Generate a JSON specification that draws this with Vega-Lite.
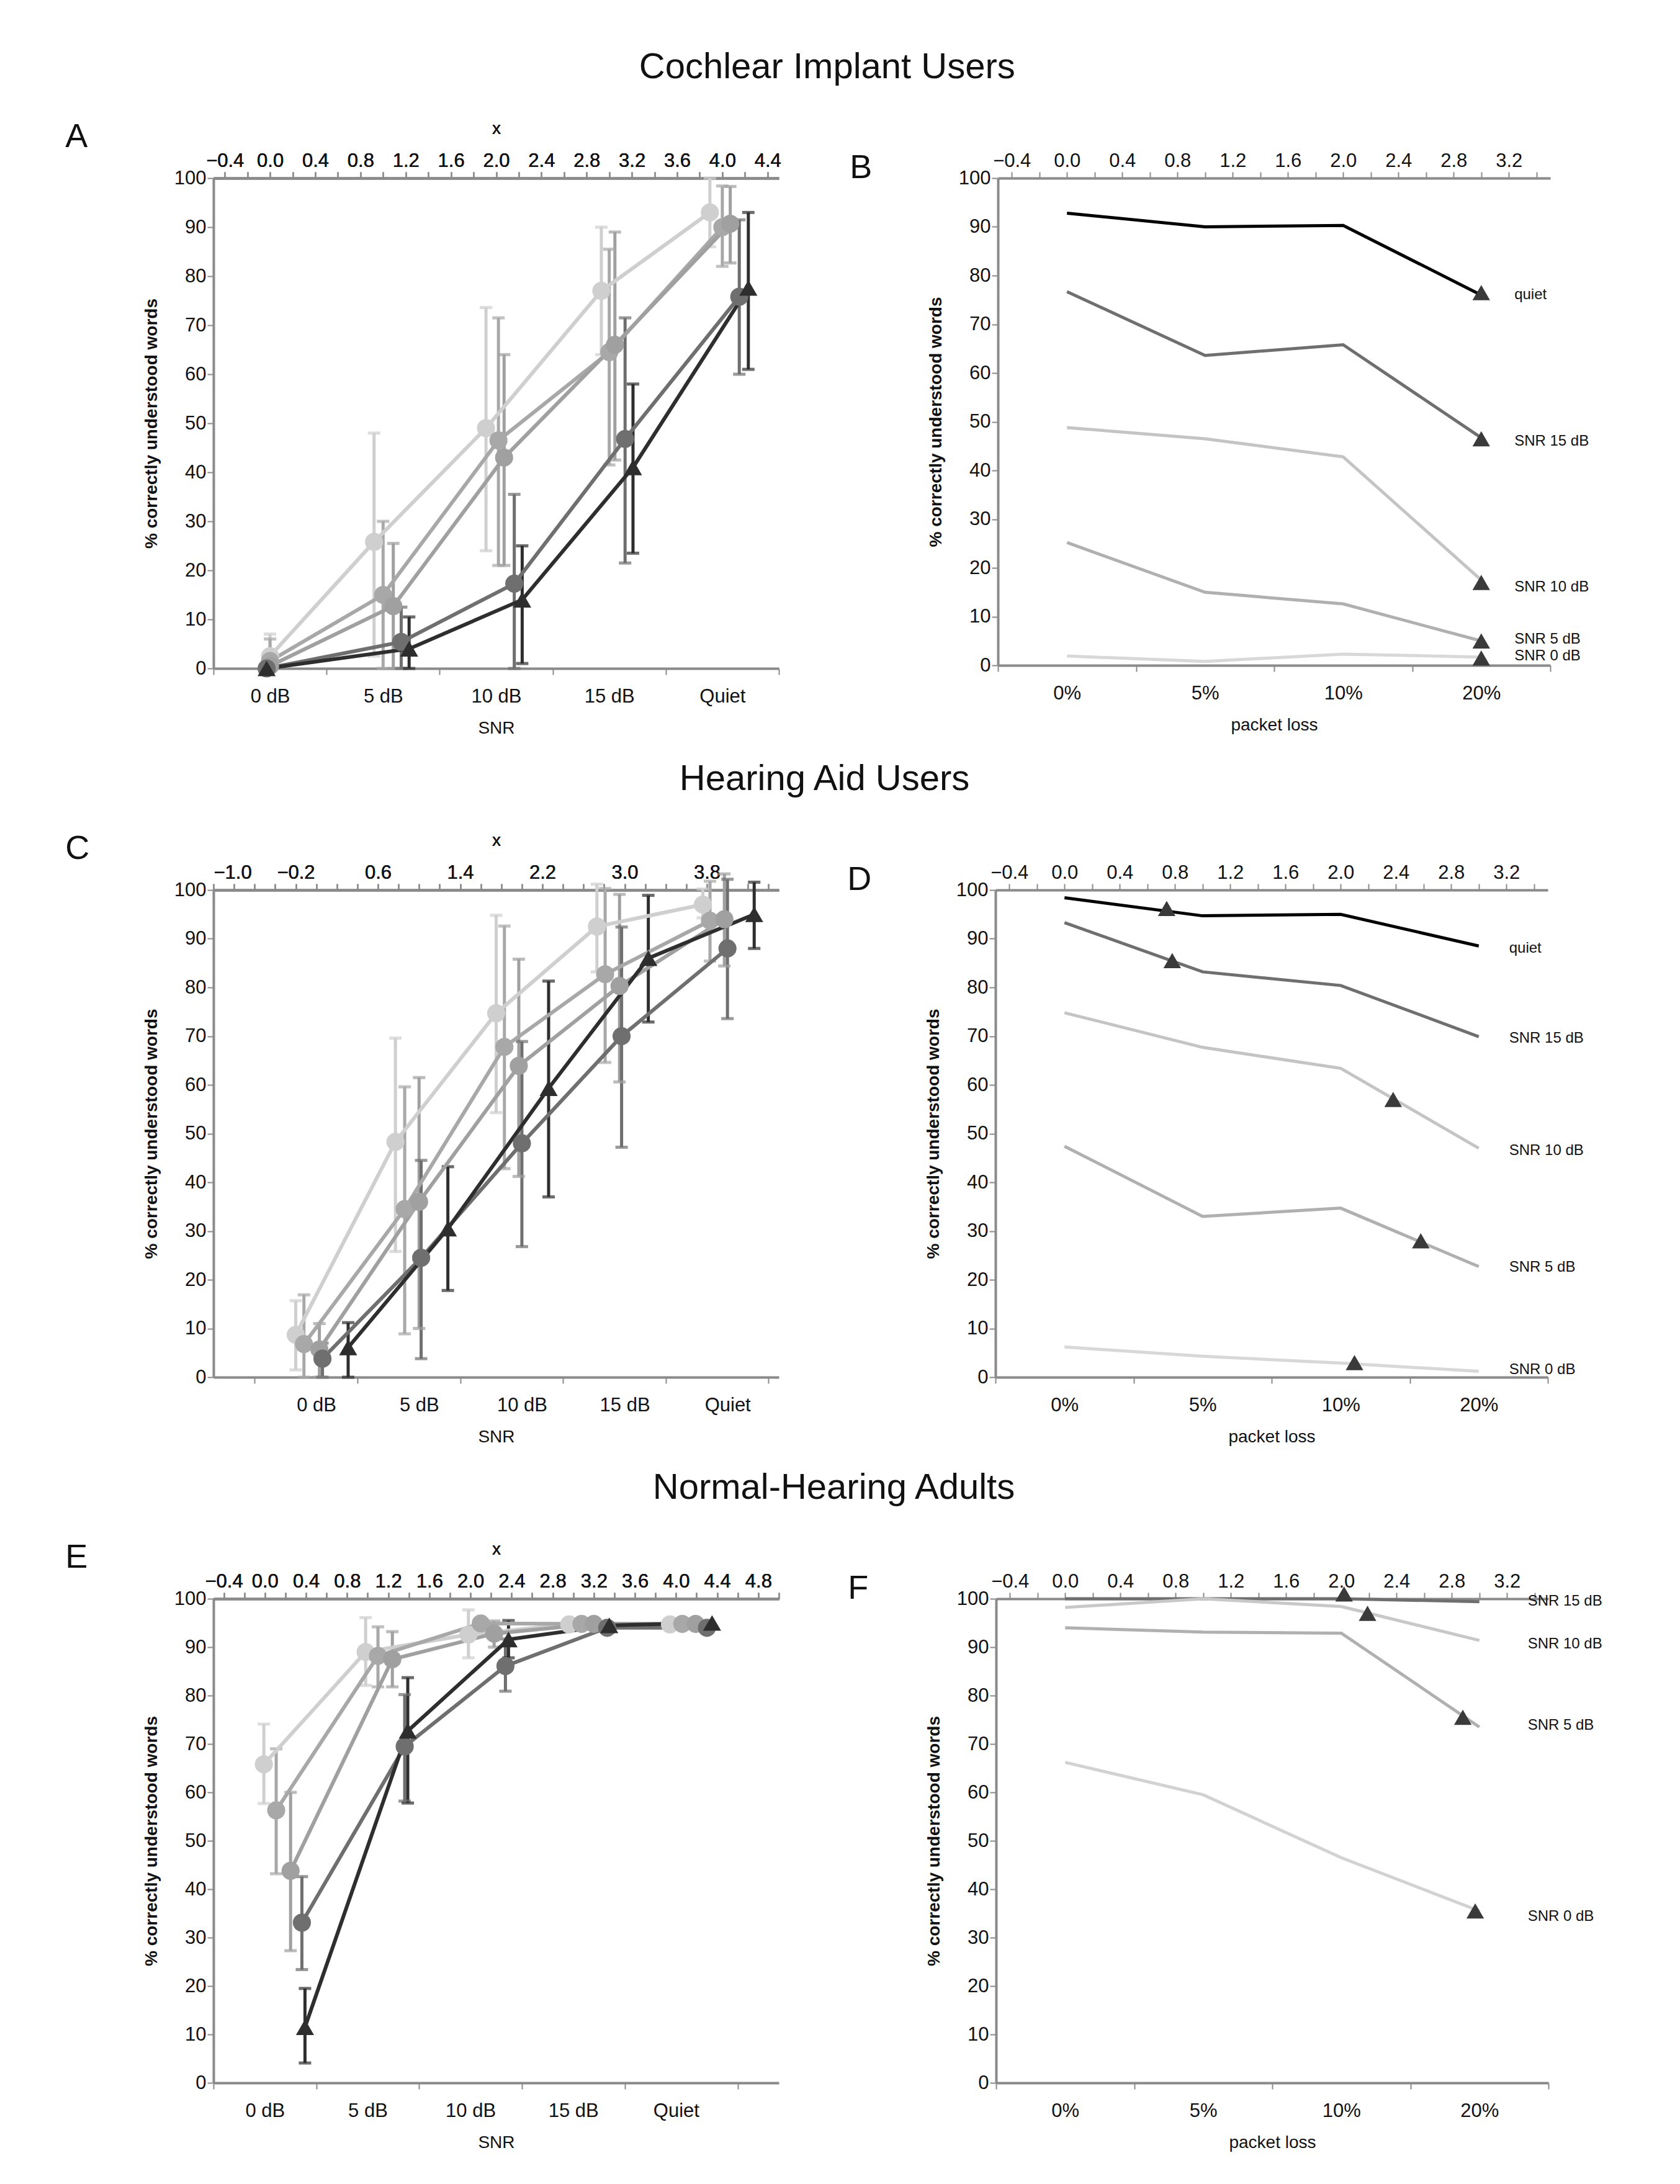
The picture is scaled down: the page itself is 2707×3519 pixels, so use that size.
{
  "$schema": "https://vega.github.io/schema/vega-lite/v6.json",
  "background": "white",
  "padding": {"left": 105, "top": 80, "right": 20, "bottom": 20},
  "config": {
    "font": "Liberation Sans",
    "view": {"stroke": null},
    "axis": {"grid": false, "domainColor": "#8a8a8a", "domainWidth": 4, "tickColor": "#8a8a8a", "tickWidth": 2, "tickSize": 10, "labelFontSize": 31, "labelColor": "#111", "titleFontSize": 28, "titleColor": "#111", "labelFont": "Liberation Sans", "titleFont": "Liberation Sans"},
    "axisY": {"titleFontWeight": "bold", "titlePadding": 22},
    "axisX": {"titleFontWeight": "normal", "titlePadding": 22},
    "title": {"font": "Liberation Sans", "fontWeight": "normal", "color": "#111"},
    "concat": {"spacing": 40}
  },
  "resolve": {"scale": {"color": "independent", "shape": "independent"}, "legend": {"color": "independent", "shape": "independent"}},
  "datasets": {
    "A": [
      {"s": "0% packet loss", "x": 0.0, "y": 2.5, "lo": 0, "hi": 7},
      {"s": "0% packet loss", "x": 0.92, "y": 25.8, "lo": 2.5, "hi": 48},
      {"s": "0% packet loss", "x": 1.91, "y": 49, "lo": 24, "hi": 73.6},
      {"s": "0% packet loss", "x": 2.93, "y": 77, "lo": 64, "hi": 90},
      {"s": "0% packet loss", "x": 3.89, "y": 93, "lo": 86, "hi": 100},
      {"s": "5% packet loss", "x": 0.0, "y": 1.5, "lo": 0, "hi": 6},
      {"s": "5% packet loss", "x": 1.0, "y": 15, "lo": 0, "hi": 30},
      {"s": "5% packet loss", "x": 2.02, "y": 46.5, "lo": 21, "hi": 71.5},
      {"s": "5% packet loss", "x": 3.0, "y": 64.5, "lo": 41.5, "hi": 85.5},
      {"s": "5% packet loss", "x": 4.0, "y": 90, "lo": 82, "hi": 98.4},
      {"s": "10% packet loss", "x": 0.0, "y": 0.5, "lo": null, "hi": null},
      {"s": "10% packet loss", "x": 1.09, "y": 12.7, "lo": 0, "hi": 25.5},
      {"s": "10% packet loss", "x": 2.07, "y": 43, "lo": 21, "hi": 64},
      {"s": "10% packet loss", "x": 3.05, "y": 66, "lo": 42.5, "hi": 89},
      {"s": "10% packet loss", "x": 4.07, "y": 90.7, "lo": 82.7, "hi": 98.3},
      {"s": "20% packet loss", "x": -0.03, "y": 0, "lo": null, "hi": null},
      {"s": "20% packet loss", "x": 1.16, "y": 5.4, "lo": 0, "hi": 12.5},
      {"s": "20% packet loss", "x": 2.16, "y": 17.3, "lo": 0, "hi": 35.5},
      {"s": "20% packet loss", "x": 3.14, "y": 46.8, "lo": 21.5, "hi": 71.5},
      {"s": "20% packet loss", "x": 4.15, "y": 75.8, "lo": 60, "hi": 91.5},
      {"s": "Telephone", "x": -0.03, "y": 0, "lo": null, "hi": null},
      {"s": "Telephone", "x": 1.23, "y": 4, "lo": 0, "hi": 10.5},
      {"s": "Telephone", "x": 2.23, "y": 14, "lo": 1, "hi": 25},
      {"s": "Telephone", "x": 3.21, "y": 41, "lo": 23.5, "hi": 58},
      {"s": "Telephone", "x": 4.23, "y": 77.6, "lo": 61, "hi": 93}
    ],
    "C": [
      {"s": "0% packet loss", "x": -0.2, "y": 8.7, "lo": 1.5, "hi": 15.7},
      {"s": "0% packet loss", "x": 0.77, "y": 48.3, "lo": 25.8, "hi": 69.6},
      {"s": "0% packet loss", "x": 1.75, "y": 74.7, "lo": 54.3, "hi": 94.8},
      {"s": "0% packet loss", "x": 2.73, "y": 92.5, "lo": 83.2, "hi": 101.2},
      {"s": "0% packet loss", "x": 3.76, "y": 97, "lo": 94.3, "hi": 100.2},
      {"s": "5% packet loss", "x": -0.12, "y": 6.8, "lo": 0, "hi": 16.9},
      {"s": "5% packet loss", "x": 0.86, "y": 34.5, "lo": 8.9, "hi": 59.6},
      {"s": "5% packet loss", "x": 1.83, "y": 67.8, "lo": 42.8, "hi": 92.6},
      {"s": "5% packet loss", "x": 2.81, "y": 82.7, "lo": 64.6, "hi": 100.3},
      {"s": "5% packet loss", "x": 3.83, "y": 93.7, "lo": 85.4, "hi": 101.8},
      {"s": "10% packet loss", "x": 0.03, "y": 5.7, "lo": 0, "hi": 11},
      {"s": "10% packet loss", "x": 1.0, "y": 36, "lo": 10, "hi": 61.5},
      {"s": "10% packet loss", "x": 1.97, "y": 63.9, "lo": 41.2, "hi": 85.8},
      {"s": "10% packet loss", "x": 2.95, "y": 80.3, "lo": 60.6, "hi": 99.1},
      {"s": "10% packet loss", "x": 3.97, "y": 94, "lo": 84.4, "hi": 103.3},
      {"s": "20% packet loss", "x": 0.06, "y": 3.8, "lo": 0, "hi": 7},
      {"s": "20% packet loss", "x": 1.02, "y": 24.5, "lo": 3.8, "hi": 44.5},
      {"s": "20% packet loss", "x": 2.0, "y": 48, "lo": 26.8, "hi": 68.9},
      {"s": "20% packet loss", "x": 2.97, "y": 70, "lo": 47.2, "hi": 92.4},
      {"s": "20% packet loss", "x": 4.0, "y": 88, "lo": 73.6, "hi": 102.2},
      {"s": "Telephone", "x": 0.31, "y": 6.1, "lo": 0, "hi": 11.2},
      {"s": "Telephone", "x": 1.28, "y": 30.5, "lo": 17.8, "hi": 43.2},
      {"s": "Telephone", "x": 2.26, "y": 59.3, "lo": 37, "hi": 81.3},
      {"s": "Telephone", "x": 3.23, "y": 86, "lo": 72.9, "hi": 98.9},
      {"s": "Telephone", "x": 4.26, "y": 95, "lo": 88, "hi": 101.6}
    ],
    "E": [
      {"s": "0% packet loss", "x": -0.01, "y": 65.8, "lo": 57.7, "hi": 74.1},
      {"s": "0% packet loss", "x": 0.98, "y": 89, "lo": 82.1, "hi": 96.1},
      {"s": "0% packet loss", "x": 1.98, "y": 92.6, "lo": 87.8, "hi": 97.7},
      {"s": "0% packet loss", "x": 2.96, "y": 94.7, "lo": null, "hi": null},
      {"s": "0% packet loss", "x": 3.94, "y": 94.7, "lo": null, "hi": null},
      {"s": "5% packet loss", "x": 0.11, "y": 56.3, "lo": 43.2, "hi": 69},
      {"s": "5% packet loss", "x": 1.1, "y": 88.2, "lo": 81.8, "hi": 94.2},
      {"s": "5% packet loss", "x": 2.1, "y": 94.9, "lo": null, "hi": null},
      {"s": "5% packet loss", "x": 3.08, "y": 94.8, "lo": null, "hi": null},
      {"s": "5% packet loss", "x": 4.06, "y": 94.8, "lo": null, "hi": null},
      {"s": "10% packet loss", "x": 0.25, "y": 43.8, "lo": 27.3, "hi": 60},
      {"s": "10% packet loss", "x": 1.24, "y": 87.5, "lo": 81.8, "hi": 93.2},
      {"s": "10% packet loss", "x": 2.23, "y": 92.8, "lo": 90, "hi": 95.4},
      {"s": "10% packet loss", "x": 3.2, "y": 94.8, "lo": null, "hi": null},
      {"s": "10% packet loss", "x": 4.19, "y": 94.8, "lo": null, "hi": null},
      {"s": "20% packet loss", "x": 0.36, "y": 33.1, "lo": 23.4, "hi": 42.6},
      {"s": "20% packet loss", "x": 1.36, "y": 69.5, "lo": 58.2, "hi": 80.2},
      {"s": "20% packet loss", "x": 2.34, "y": 86.1, "lo": 80.9, "hi": 91.7},
      {"s": "20% packet loss", "x": 3.33, "y": 94, "lo": null, "hi": null},
      {"s": "20% packet loss", "x": 4.3, "y": 94, "lo": null, "hi": null},
      {"s": "Telephone", "x": 0.39, "y": 11.5, "lo": 4.1, "hi": 19.5},
      {"s": "Telephone", "x": 1.39, "y": 72.7, "lo": 57.8, "hi": 83.7},
      {"s": "Telephone", "x": 2.37, "y": 91.6, "lo": 87.8, "hi": 95.5},
      {"s": "Telephone", "x": 3.35, "y": 94.5, "lo": null, "hi": null},
      {"s": "Telephone", "x": 4.35, "y": 95, "lo": null, "hi": null}
    ],
    "B": [
      {"s": "quiet", "x": 0, "y": 92.8}, {"s": "quiet", "x": 1, "y": 90}, {"s": "quiet", "x": 2, "y": 90.3}, {"s": "quiet", "x": 3, "y": 76},
      {"s": "SNR 15 dB", "x": 0, "y": 76.7}, {"s": "SNR 15 dB", "x": 1, "y": 63.6}, {"s": "SNR 15 dB", "x": 2, "y": 65.8}, {"s": "SNR 15 dB", "x": 3, "y": 46.7},
      {"s": "SNR 10 dB", "x": 0, "y": 48.8}, {"s": "SNR 10 dB", "x": 1, "y": 46.5}, {"s": "SNR 10 dB", "x": 2, "y": 42.8}, {"s": "SNR 10 dB", "x": 3, "y": 17.5},
      {"s": "SNR 5 dB", "x": 0, "y": 25.2}, {"s": "SNR 5 dB", "x": 1, "y": 15}, {"s": "SNR 5 dB", "x": 2, "y": 12.6}, {"s": "SNR 5 dB", "x": 3, "y": 5},
      {"s": "SNR 0 dB", "x": 0, "y": 1.9}, {"s": "SNR 0 dB", "x": 1, "y": 0.8}, {"s": "SNR 0 dB", "x": 2, "y": 2.3}, {"s": "SNR 0 dB", "x": 3, "y": 1.7}
    ],
    "Btel": [
      {"s": "quiet", "x": 3, "y": 76.5, "ly": 76},
      {"s": "SNR 15 dB", "x": 3, "y": 46.5, "ly": 46},
      {"s": "SNR 10 dB", "x": 3, "y": 17, "ly": 16},
      {"s": "SNR 5 dB", "x": 3, "y": 5, "ly": 5.4},
      {"s": "SNR 0 dB", "x": 3, "y": 1.5, "ly": 1.9}
    ],
    "D": [
      {"s": "quiet", "x": 0, "y": 98.4}, {"s": "quiet", "x": 1, "y": 94.7}, {"s": "quiet", "x": 2, "y": 95}, {"s": "quiet", "x": 3, "y": 88.5},
      {"s": "SNR 15 dB", "x": 0, "y": 93.3}, {"s": "SNR 15 dB", "x": 1, "y": 83.2}, {"s": "SNR 15 dB", "x": 2, "y": 80.4}, {"s": "SNR 15 dB", "x": 3, "y": 69.9},
      {"s": "SNR 10 dB", "x": 0, "y": 74.8}, {"s": "SNR 10 dB", "x": 1, "y": 67.7}, {"s": "SNR 10 dB", "x": 2, "y": 63.4}, {"s": "SNR 10 dB", "x": 3, "y": 47},
      {"s": "SNR 5 dB", "x": 0, "y": 47.4}, {"s": "SNR 5 dB", "x": 1, "y": 33}, {"s": "SNR 5 dB", "x": 2, "y": 34.7}, {"s": "SNR 5 dB", "x": 3, "y": 22.7},
      {"s": "SNR 0 dB", "x": 0, "y": 6.2}, {"s": "SNR 0 dB", "x": 1, "y": 4.3}, {"s": "SNR 0 dB", "x": 2, "y": 2.9}, {"s": "SNR 0 dB", "x": 3, "y": 1.2}
    ],
    "Dtel": [
      {"s": "quiet", "x": 0.74, "y": 96.2, "ly": 88},
      {"s": "SNR 15 dB", "x": 0.78, "y": 85.5, "ly": 69.6},
      {"s": "SNR 10 dB", "x": 2.38, "y": 57, "ly": 46.5},
      {"s": "SNR 5 dB", "x": 2.58, "y": 28, "ly": 22.5},
      {"s": "SNR 0 dB", "x": 2.1, "y": 3, "ly": 1.5}
    ],
    "F": [
      {"s": "SNR 15 dB", "x": 0, "y": 100}, {"s": "SNR 15 dB", "x": 1, "y": 100}, {"s": "SNR 15 dB", "x": 2, "y": 100}, {"s": "SNR 15 dB", "x": 3, "y": 99.4},
      {"s": "SNR 10 dB", "x": 0, "y": 98.2}, {"s": "SNR 10 dB", "x": 1, "y": 100}, {"s": "SNR 10 dB", "x": 2, "y": 98.4}, {"s": "SNR 10 dB", "x": 3, "y": 91.4},
      {"s": "SNR 5 dB", "x": 0, "y": 94}, {"s": "SNR 5 dB", "x": 1, "y": 93.1}, {"s": "SNR 5 dB", "x": 2, "y": 92.9}, {"s": "SNR 5 dB", "x": 3, "y": 73.5},
      {"s": "SNR 0 dB", "x": 0, "y": 66.2}, {"s": "SNR 0 dB", "x": 1, "y": 59.5}, {"s": "SNR 0 dB", "x": 2, "y": 46.5}, {"s": "SNR 0 dB", "x": 3, "y": 35.5}
    ],
    "Ftel": [
      {"s": "SNR 15 dB", "x": 2.02, "y": 101, "ly": 99.5},
      {"s": "SNR 10 dB", "x": 2.19, "y": 97, "ly": 90.7},
      {"s": "SNR 5 dB", "x": 2.88, "y": 75.5, "ly": 73.8},
      {"s": "SNR 0 dB", "x": 2.97, "y": 35.5, "ly": 34.4}
    ]
  },
  "vconcat": [
    {
      "title": {"text": "Cochlear Implant Users", "fontSize": 58, "anchor": "middle", "offset": 55},
      "spacing": 110,
      "resolve": {"scale": {"color": "independent", "shape": "independent"}, "legend": {"color": "independent", "shape": "independent"}},
      "hconcat": [
        {
          "width": 911, "height": 790,
          "title": {"text": "A", "fontSize": 54, "anchor": "start", "dx": -125, "dy": 55, "offset": 0},
          "data": {"name": "A"},
          "layer": [
            {"transform": [{"filter": "isValid(datum.lo)"}], "mark": {"type": "rule", "strokeWidth": 5},
             "encoding": {"x": {"field": "x", "type": "quantitative", "scale": {"domain": [-0.5, 4.5]}, "axis": {"orient": "bottom", "values": [-0.5, 0.5, 1.5, 2.5, 3.5, 4.5], "labels": false, "domain": false, "title": null}},
              "y": {"field": "lo", "type": "quantitative", "scale": {"domain": [0, 100]}, "axis": {"values": [0,10,20,30,40,50,60,70,80,90,100], "title": "% correctly understood words"}},
              "y2": {"field": "hi"}, "color": {"field": "s", "type": "nominal", "scale": {"domain": ["0% packet loss", "5% packet loss", "10% packet loss", "20% packet loss", "Telephone"], "range": ["#cfcfcf", "#a8a8a8", "#a0a0a0", "#6f6f6f", "#2e2e2e"]}, "legend": null}}},
            {"transform": [{"filter": "isValid(datum.lo)"}], "mark": {"type": "tick", "orient": "horizontal", "size": 20, "thickness": 5},
             "encoding": {"x": {"field": "x", "type": "quantitative"}, "y": {"field": "lo", "type": "quantitative"}, "color": {"field": "s", "type": "nominal", "legend": null}}},
            {"transform": [{"filter": "isValid(datum.lo)"}], "mark": {"type": "tick", "orient": "horizontal", "size": 20, "thickness": 5},
             "encoding": {"x": {"field": "x", "type": "quantitative"}, "y": {"field": "hi", "type": "quantitative"}, "color": {"field": "s", "type": "nominal", "legend": null}}},
            {"mark": {"type": "line", "strokeWidth": 6},
             "encoding": {"x": {"field": "x", "type": "quantitative", "axis": {"orient": "bottom", "values": [0, 1, 2, 3, 4], "ticks": false, "labelExpr": "['0 dB','5 dB','10 dB','15 dB','Quiet'][datum.value]", "title": "SNR", "labelPadding": 30}}, "y": {"field": "y", "type": "quantitative"}, "color": {"field": "s", "type": "nominal", "legend": null}, "order": {"field": "x"}}},
            {"mark": {"type": "point", "filled": true, "opacity": 1, "size": 850},
             "encoding": {"x": {"field": "x", "type": "quantitative"}, "y": {"field": "y", "type": "quantitative"},
              "color": {"field": "s", "type": "nominal", "legend": {"orient": "bottom-right", "title": null, "labelFontSize": 17, "symbolSize": 300, "offset": 60, "rowPadding": 6}},
              "shape": {"field": "s", "type": "nominal", "scale": {"domain": ["0% packet loss", "5% packet loss", "10% packet loss", "20% packet loss", "Telephone"], "range": ["circle", "circle", "circle", "circle", "triangle-up"]}, "legend": {"orient": "bottom-right", "title": null, "labelFontSize": 17, "symbolSize": 300, "offset": 60, "rowPadding": 6}}}}
          ],
          "resolve": {"axis": {"x": "independent"}}
        },
        {
          "width": 890, "height": 785,
          "title": {"text": "B", "fontSize": 54, "anchor": "start", "dx": -125, "dy": 55, "offset": 0},
          "layer": [
            {"data": {"name": "B"}, "mark": {"type": "line", "strokeWidth": 5},
             "encoding": {"x": {"field": "x", "type": "quantitative", "scale": {"domain": [-0.5, 3.5]}, "axis": {"orient": "bottom", "values": [-0.5, 0.5, 1.5, 2.5, 3.5], "labels": false, "domain": true, "title": null}},
              "y": {"field": "y", "type": "quantitative", "scale": {"domain": [0, 100]}, "axis": {"values": [0,10,20,30,40,50,60,70,80,90,100], "title": "% correctly understood words"}},
              "color": {"field": "s", "type": "nominal", "scale": {"domain": ["quiet", "SNR 15 dB", "SNR 10 dB", "SNR 5 dB", "SNR 0 dB"], "range": ["#000000", "#6f6f6f", "#c4c4c4", "#b0b0b0", "#d8d8d8"]}, "legend": null}, "order": {"field": "x"}}},
            {"data": {"name": "Btel"}, "mark": {"type": "point", "shape": "triangle-up", "filled": true, "opacity": 1, "size": 800, "color": "#3a3a3a"},
             "encoding": {"x": {"field": "x", "type": "quantitative", "axis": {"orient": "bottom", "values": [0, 1, 2, 3], "ticks": false, "domain": false, "labelExpr": "['0%','5%','10%','20%'][datum.value]", "title": "packet loss", "labelPadding": 30}}, "y": {"field": "y", "type": "quantitative"}}},
            {"data": {"name": "Btel"}, "mark": {"type": "text", "align": "left", "baseline": "middle", "fontSize": 24, "color": "#111"},
             "encoding": {"x": {"datum": 3.24}, "y": {"field": "ly", "type": "quantitative"}, "text": {"field": "s"}}}
          ],
          "resolve": {"axis": {"x": "independent"}}
        }
      ]
    },
    {
      "title": {"text": "Hearing Aid Users", "fontSize": 58, "anchor": "middle", "offset": 55},
      "spacing": 110,
      "resolve": {"scale": {"color": "independent", "shape": "independent"}, "legend": {"color": "independent", "shape": "independent"}},
      "hconcat": [
        {
          "width": 911, "height": 785,
          "title": {"text": "C", "fontSize": 54, "anchor": "start", "dx": -125, "dy": 55, "offset": 0},
          "data": {"name": "C"},
          "layer": [
            {"transform": [{"filter": "isValid(datum.lo)"}], "mark": {"type": "rule", "strokeWidth": 5},
             "encoding": {"x": {"field": "x", "type": "quantitative", "scale": {"domain": [-0.6, 4.5]}, "axis": {"orient": "bottom", "values": [-0.6, 0.4, 1.4, 2.4, 3.4, 4.4], "labels": false, "domain": false, "title": null}},
              "y": {"field": "lo", "type": "quantitative", "scale": {"domain": [0, 100]}, "axis": {"values": [0,10,20,30,40,50,60,70,80,90,100], "title": "% correctly understood words"}},
              "y2": {"field": "hi"}, "color": {"field": "s", "type": "nominal", "scale": {"domain": ["0% packet loss", "5% packet loss", "10% packet loss", "20% packet loss", "Telephone"], "range": ["#cfcfcf", "#a8a8a8", "#a0a0a0", "#6f6f6f", "#2e2e2e"]}, "legend": null}}},
            {"transform": [{"filter": "isValid(datum.lo)"}], "mark": {"type": "tick", "orient": "horizontal", "size": 20, "thickness": 5},
             "encoding": {"x": {"field": "x", "type": "quantitative"}, "y": {"field": "lo", "type": "quantitative"}, "color": {"field": "s", "type": "nominal", "legend": null}}},
            {"transform": [{"filter": "isValid(datum.lo)"}], "mark": {"type": "tick", "orient": "horizontal", "size": 20, "thickness": 5},
             "encoding": {"x": {"field": "x", "type": "quantitative"}, "y": {"field": "hi", "type": "quantitative"}, "color": {"field": "s", "type": "nominal", "legend": null}}},
            {"mark": {"type": "line", "strokeWidth": 6},
             "encoding": {"x": {"field": "x", "type": "quantitative", "axis": {"orient": "bottom", "values": [0, 1, 2, 3, 4], "ticks": false, "labelExpr": "['0 dB','5 dB','10 dB','15 dB','Quiet'][datum.value]", "title": "SNR", "labelPadding": 30}}, "y": {"field": "y", "type": "quantitative"}, "color": {"field": "s", "type": "nominal", "legend": null}, "order": {"field": "x"}}},
            {"mark": {"type": "point", "filled": true, "opacity": 1, "size": 850},
             "encoding": {"x": {"field": "x", "type": "quantitative"}, "y": {"field": "y", "type": "quantitative"}, "color": {"field": "s", "type": "nominal", "legend": null},
              "shape": {"field": "s", "type": "nominal", "scale": {"domain": ["0% packet loss", "5% packet loss", "10% packet loss", "20% packet loss", "Telephone"], "range": ["circle", "circle", "circle", "circle", "triangle-up"]}, "legend": null}}}
          ],
          "resolve": {"axis": {"x": "independent"}}
        },
        {
          "width": 890, "height": 785,
          "title": {"text": "D", "fontSize": 54, "anchor": "start", "dx": -125, "dy": 55, "offset": 0},
          "layer": [
            {"data": {"name": "D"}, "mark": {"type": "line", "strokeWidth": 5},
             "encoding": {"x": {"field": "x", "type": "quantitative", "scale": {"domain": [-0.5, 3.5]}, "axis": {"orient": "bottom", "values": [-0.5, 0.5, 1.5, 2.5, 3.5], "labels": false, "domain": true, "title": null}},
              "y": {"field": "y", "type": "quantitative", "scale": {"domain": [0, 100]}, "axis": {"values": [0,10,20,30,40,50,60,70,80,90,100], "title": "% correctly understood words"}},
              "color": {"field": "s", "type": "nominal", "scale": {"domain": ["quiet", "SNR 15 dB", "SNR 10 dB", "SNR 5 dB", "SNR 0 dB"], "range": ["#000000", "#6f6f6f", "#c4c4c4", "#b0b0b0", "#d8d8d8"]}, "legend": null}, "order": {"field": "x"}}},
            {"data": {"name": "Dtel"}, "mark": {"type": "point", "shape": "triangle-up", "filled": true, "opacity": 1, "size": 800, "color": "#3a3a3a"},
             "encoding": {"x": {"field": "x", "type": "quantitative", "axis": {"orient": "bottom", "values": [0, 1, 2, 3], "ticks": false, "domain": false, "labelExpr": "['0%','5%','10%','20%'][datum.value]", "title": "packet loss", "labelPadding": 30}}, "y": {"field": "y", "type": "quantitative"}}},
            {"data": {"name": "Dtel"}, "mark": {"type": "text", "align": "left", "baseline": "middle", "fontSize": 24, "color": "#111"},
             "encoding": {"x": {"datum": 3.22}, "y": {"field": "ly", "type": "quantitative"}, "text": {"field": "s"}}}
          ],
          "resolve": {"axis": {"x": "independent"}}
        }
      ]
    },
    {
      "title": {"text": "Normal-Hearing Adults", "fontSize": 58, "anchor": "middle", "offset": 55},
      "spacing": 110,
      "resolve": {"scale": {"color": "independent", "shape": "independent"}, "legend": {"color": "independent", "shape": "independent"}},
      "hconcat": [
        {
          "width": 911, "height": 780,
          "title": {"text": "E", "fontSize": 54, "anchor": "start", "dx": -125, "dy": 55, "offset": 0},
          "data": {"name": "E"},
          "layer": [
            {"transform": [{"filter": "isValid(datum.lo)"}], "mark": {"type": "rule", "strokeWidth": 5},
             "encoding": {"x": {"field": "x", "type": "quantitative", "scale": {"domain": [-0.5, 4.6]}, "axis": {"orient": "bottom", "values": [-0.5, 0.5, 1.5, 2.5, 3.5, 4.6], "labels": false, "domain": false, "title": null}},
              "y": {"field": "lo", "type": "quantitative", "scale": {"domain": [0, 100]}, "axis": {"values": [0,10,20,30,40,50,60,70,80,90,100], "title": "% correctly understood words"}},
              "y2": {"field": "hi"}, "color": {"field": "s", "type": "nominal", "scale": {"domain": ["0% packet loss", "5% packet loss", "10% packet loss", "20% packet loss", "Telephone"], "range": ["#cfcfcf", "#a8a8a8", "#a0a0a0", "#6f6f6f", "#2e2e2e"]}, "legend": null}}},
            {"transform": [{"filter": "isValid(datum.lo)"}], "mark": {"type": "tick", "orient": "horizontal", "size": 20, "thickness": 5},
             "encoding": {"x": {"field": "x", "type": "quantitative"}, "y": {"field": "lo", "type": "quantitative"}, "color": {"field": "s", "type": "nominal", "legend": null}}},
            {"transform": [{"filter": "isValid(datum.lo)"}], "mark": {"type": "tick", "orient": "horizontal", "size": 20, "thickness": 5},
             "encoding": {"x": {"field": "x", "type": "quantitative"}, "y": {"field": "hi", "type": "quantitative"}, "color": {"field": "s", "type": "nominal", "legend": null}}},
            {"mark": {"type": "line", "strokeWidth": 6},
             "encoding": {"x": {"field": "x", "type": "quantitative", "axis": {"orient": "bottom", "values": [0, 1, 2, 3, 4], "ticks": false, "labelExpr": "['0 dB','5 dB','10 dB','15 dB','Quiet'][datum.value]", "title": "SNR", "labelPadding": 30}}, "y": {"field": "y", "type": "quantitative"}, "color": {"field": "s", "type": "nominal", "legend": null}, "order": {"field": "x"}}},
            {"mark": {"type": "point", "filled": true, "opacity": 1, "size": 850},
             "encoding": {"x": {"field": "x", "type": "quantitative"}, "y": {"field": "y", "type": "quantitative"}, "color": {"field": "s", "type": "nominal", "legend": null},
              "shape": {"field": "s", "type": "nominal", "scale": {"domain": ["0% packet loss", "5% packet loss", "10% packet loss", "20% packet loss", "Telephone"], "range": ["circle", "circle", "circle", "circle", "triangle-up"]}, "legend": null}}}
          ],
          "resolve": {"axis": {"x": "independent"}}
        },
        {
          "width": 890, "height": 780,
          "title": {"text": "F", "fontSize": 54, "anchor": "start", "dx": -125, "dy": 55, "offset": 0},
          "layer": [
            {"data": {"name": "F"}, "mark": {"type": "line", "strokeWidth": 5},
             "encoding": {"x": {"field": "x", "type": "quantitative", "scale": {"domain": [-0.5, 3.5]}, "axis": {"orient": "bottom", "values": [-0.5, 0.5, 1.5, 2.5, 3.5], "labels": false, "domain": true, "title": null}},
              "y": {"field": "y", "type": "quantitative", "scale": {"domain": [0, 100]}, "axis": {"values": [0,10,20,30,40,50,60,70,80,90,100], "title": "% correctly understood words"}},
              "color": {"field": "s", "type": "nominal", "scale": {"domain": ["SNR 15 dB", "SNR 10 dB", "SNR 5 dB", "SNR 0 dB"], "range": ["#6f6f6f", "#c8c8c8", "#b0b0b0", "#d2d2d2"]}, "legend": null}, "order": {"field": "x"}}},
            {"data": {"name": "Ftel"}, "mark": {"type": "point", "shape": "triangle-up", "filled": true, "opacity": 1, "size": 800, "color": "#3a3a3a"},
             "encoding": {"x": {"field": "x", "type": "quantitative", "axis": {"orient": "bottom", "values": [0, 1, 2, 3], "ticks": false, "domain": false, "labelExpr": "['0%','5%','10%','20%'][datum.value]", "title": "packet loss", "labelPadding": 30}}, "y": {"field": "y", "type": "quantitative"}}},
            {"data": {"name": "Ftel"}, "mark": {"type": "text", "align": "left", "baseline": "middle", "fontSize": 24, "color": "#111"},
             "encoding": {"x": {"datum": 3.35}, "y": {"field": "ly", "type": "quantitative"}, "text": {"field": "s"}}}
          ],
          "resolve": {"axis": {"x": "independent"}}
        }
      ]
    }
  ]
}
